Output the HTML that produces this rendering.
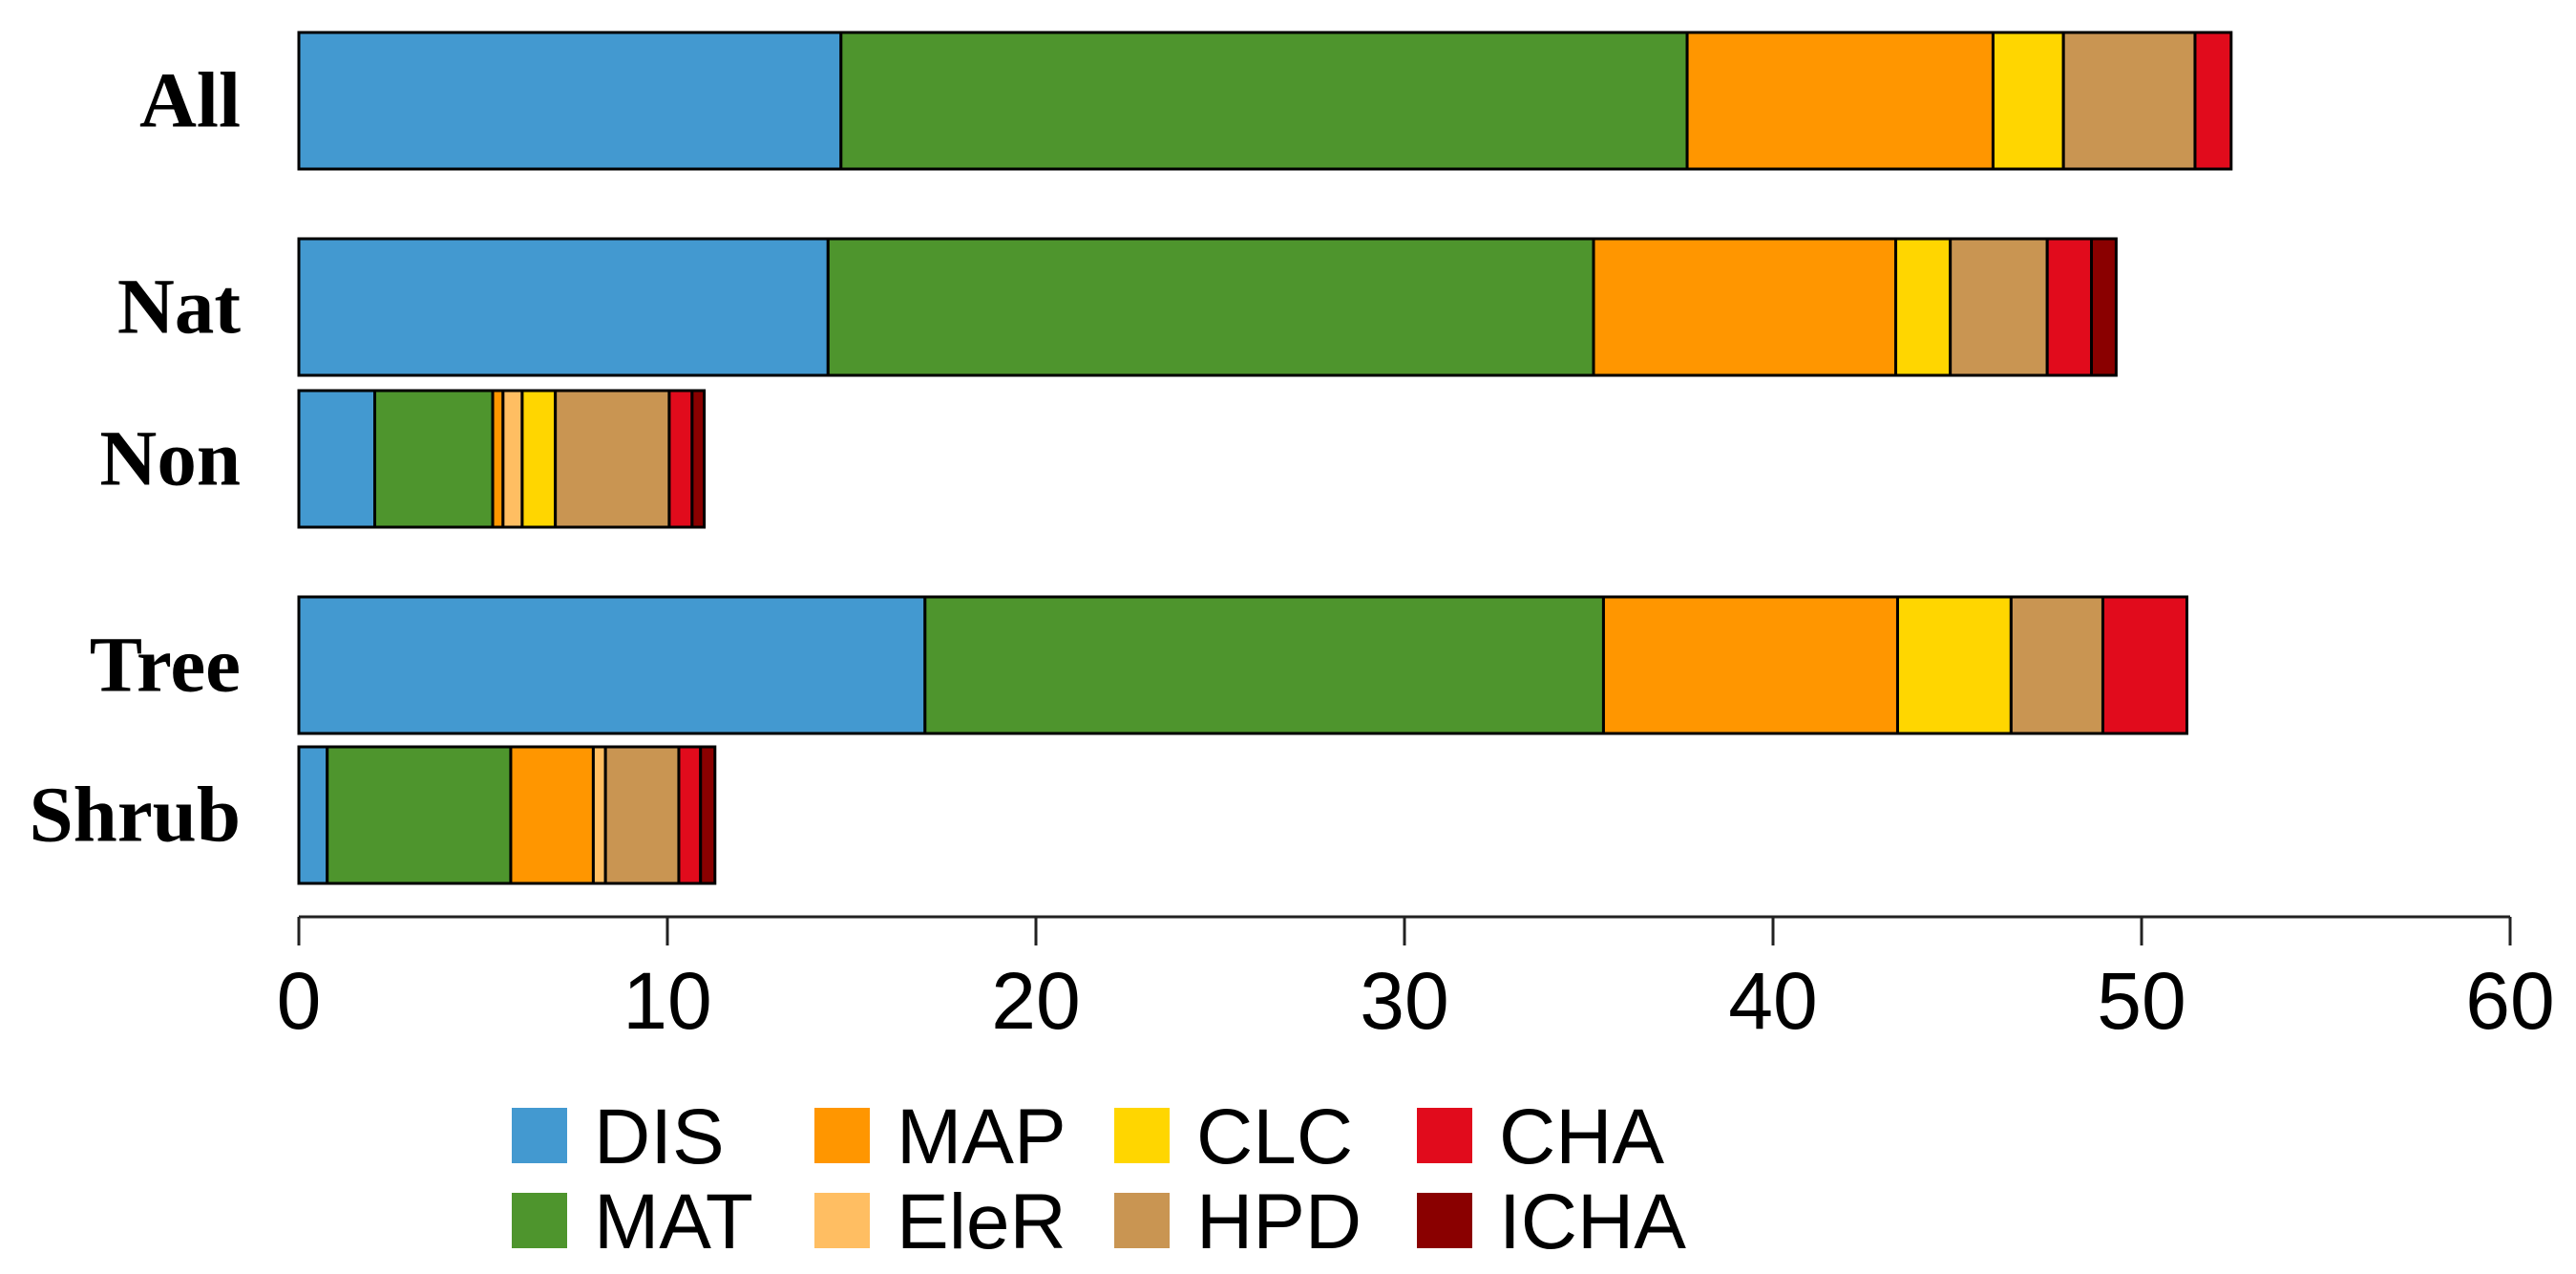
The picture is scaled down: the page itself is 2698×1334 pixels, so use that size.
<!DOCTYPE html>
<html><head><meta charset="utf-8"><style>
html,body{margin:0;padding:0;background:#fff;}
svg{display:block;}
</style></head><body>
<svg id="chart" width="2698" height="1334" viewBox="0 0 2698 1334" xmlns="http://www.w3.org/2000/svg">
<g id="bars"></g>
<g id="axis"></g>
<g id="ylabels"></g>
<g id="legend"></g>
</svg>
<script>
const categories = ["All","Nat","Non","Tree","Shrub"];
const seriesNames = ["DIS","MAT","MAP","EleR","CLC","HPD","CHA","ICHA"];
const DIS  = [14.71, 14.36, 2.06, 16.99, 0.77];
const MAT  = [22.96, 20.77, 3.20, 18.41, 4.98];
const MAP  = [8.30, 8.20, 0.28, 7.98, 2.24];
const EleR = [0, 0, 0.52, 0, 0.33];
const CLC  = [1.91, 1.48, 0.90, 3.08, 0];
const HPD  = [3.57, 2.63, 3.09, 2.49, 1.99];
const CHA  = [0.98, 1.20, 0.62, 2.28, 0.59];
const ICHA = [0, 0.67, 0.33, 0, 0.39];
const xTicks = [0,10,20,30,40,50,60];
const series = [DIS,MAT,MAP,EleR,CLC,HPD,CHA,ICHA];
const colors = ["#4399D0","#4E952D","#FF9600","#FFBE62","#FFD600","#C99552","#E10B1C","#8A0000"];
const barTop = [34,250,409,625,782];
const barH = 143;
const NS="http://www.w3.org/2000/svg";
const x0=313, x1=2629, xmax=60;
function xs(v){return x0+(x1-x0)*v/xmax;}
function mk(tag,attrs,parent){const e=document.createElementNS(NS,tag);for(const k in attrs)e.setAttribute(k,attrs[k]);parent.appendChild(e);return e;}
const gb=document.getElementById('bars');
categories.forEach((c,i)=>{
  let acc=0;
  series.forEach((s,j)=>{
    const v=s[i]; if(v<=0) return;
    const r=mk('rect',{x:xs(acc),y:barTop[i],width:xs(acc+v)-xs(acc),height:barH,fill:colors[j],stroke:'#000','stroke-width':3},gb);
    
    
    acc+=v;
  });
});
const gy=document.getElementById('ylabels');
categories.forEach((c,i)=>{
  const t=mk('text',{x:252,y:barTop[i]+barH/2+27,'text-anchor':'end','font-family':'Liberation Serif, serif','font-weight':'bold','font-size':83,fill:'#000'},gy);
  t.textContent=c;
  
  
});
const ga=document.getElementById('axis');
mk('line',{x1:x0,x2:x1,y1:960,y2:960,stroke:'#222','stroke-width':3},ga);
xTicks.forEach(v=>{
  mk('line',{x1:xs(v),x2:xs(v),y1:960,y2:990,stroke:'#222','stroke-width':3},ga);
  const t=mk('text',{x:xs(v),y:1077,'text-anchor':'middle','font-family':'Liberation Sans, sans-serif','font-size':84,fill:'#000'},ga);
  t.textContent=v;
  
  
});
const gl=document.getElementById('legend');
const lx=[536,853,1167,1484], ly=[1160,1249];
const order=[[0,1],[2,3],[4,5],[6,7]];
order.forEach((pair,col)=>{
  pair.forEach((si,row)=>{
    const r=mk('rect',{x:lx[col],y:ly[row],width:58,height:58,fill:colors[si]},gl);
    
    
    const t=mk('text',{x:lx[col]+86,y:ly[row]+58,'font-family':'Liberation Sans, sans-serif','font-size':82,fill:'#000'},gl);
    t.textContent=seriesNames[si];
    
    
  });
});
</script>
</body></html>
